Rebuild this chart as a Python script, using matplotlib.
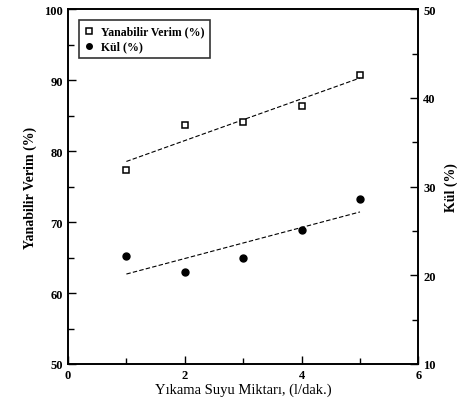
import matplotlib
matplotlib.use("Agg")
import matplotlib.pyplot as plt
import numpy as np
from matplotlib.ticker import MultipleLocator

plt.rcParams['font.family'] = ['Liberation Serif', 'DejaVu Serif']

# data
su_miktari = [1, 2, 3, 4, 5]
verim = [77.3, 83.7, 84.1, 86.3, 90.7]
kul = [22.2, 20.4, 21.9, 25.1, 28.6]

fig = plt.figure(figsize=(4.61, 4.06), dpi=100)
ax = fig.add_axes([0.1475, 0.101, 0.76, 0.874])
ax2 = ax.twinx()

# linear fits
xs = np.array([1, 5])
p1 = np.polyfit(su_miktari, verim, 1)
p2 = np.polyfit(su_miktari, kul, 1)
ax.plot(xs, np.polyval(p1, xs), color="black", linestyle=(0, (4, 2)), linewidth=0.8)
ax2.plot(xs, np.polyval(p2, xs), color="black", linestyle=(0, (4, 2)), linewidth=0.8)

h1, = ax.plot(su_miktari, verim, linestyle="none", marker="s", markersize=5,
              markerfacecolor="white", markeredgecolor="black", markeredgewidth=1.1,
              label="Yanabilir Verim (%)")
h2, = ax2.plot(su_miktari, kul, linestyle="none", marker="o", markersize=5,
               color="black", label="Kül (%)")

ax.set_xlim(0, 6)
ax.set_ylim(50, 100)
ax2.set_ylim(10, 50)

ax.xaxis.set_major_locator(MultipleLocator(2))
ax.xaxis.set_minor_locator(MultipleLocator(1))
ax.yaxis.set_major_locator(MultipleLocator(10))
ax.yaxis.set_minor_locator(MultipleLocator(5))
ax2.yaxis.set_major_locator(MultipleLocator(10))
ax2.yaxis.set_minor_locator(MultipleLocator(5))

for a in (ax, ax2):
    a.tick_params(which="both", direction="in", labelsize=9, top=False)
    a.tick_params(which="major", length=6, width=1)
    a.tick_params(which="minor", length=4, width=1)
    for s in a.spines.values():
        s.set_linewidth(1.2)
    for lab in a.get_xticklabels() + a.get_yticklabels():
        lab.set_fontweight("bold")
ax.tick_params(axis="y", right=False)
ax2.tick_params(axis="y", left=False)

ax.set_xlabel("Yıkama Suyu Miktarı, (l/dak.)", fontsize=10.5, labelpad=1)
ax.set_ylabel("Yanabilir Verim (%)", fontsize=10, fontweight="bold", labelpad=5)
ax2.set_ylabel("Kül (%)", fontsize=10, fontweight="bold", labelpad=6)

leg = ax.legend(handles=[h1, h2], loc="upper left", bbox_to_anchor=(0.015, 0.985),
                prop={"size": 8.5, "weight": "bold"}, frameon=True, fancybox=False,
                edgecolor="black", handlelength=0.8, handletextpad=0.6, borderpad=0.45,
                labelspacing=0.25, markerscale=0.8)
leg.get_frame().set_linewidth(1.2)

fig.savefig("out.png", dpi=100)
